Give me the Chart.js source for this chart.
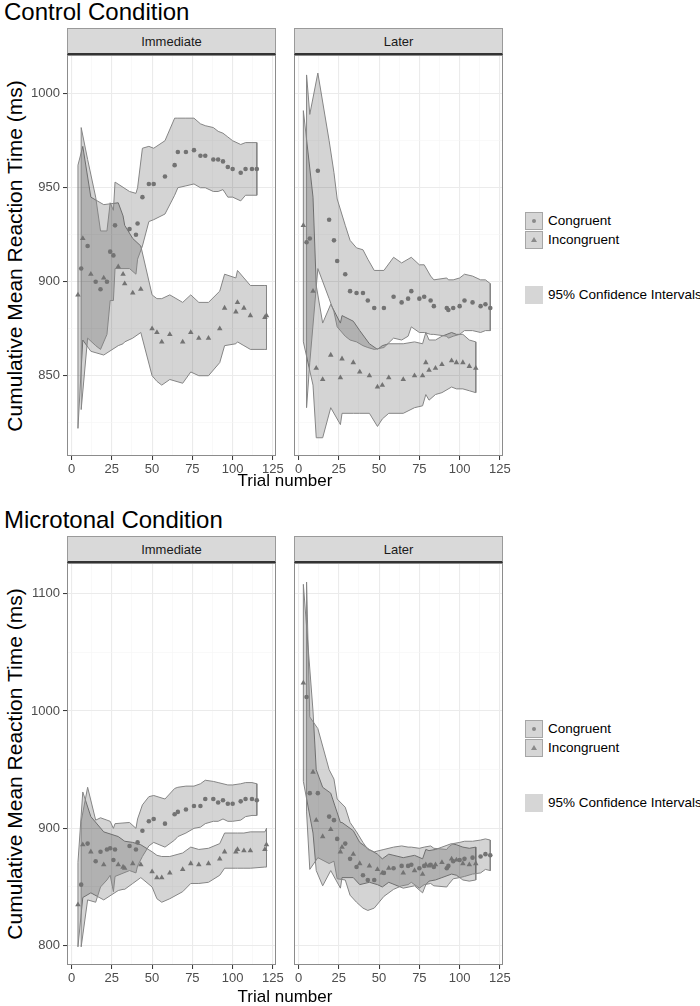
<!DOCTYPE html>
<html>
<head>
<meta charset="utf-8">
<script src="https://cdn.jsdelivr.net/npm/chart.js@4.4.0/dist/chart.umd.min.js"></script>
<style>
  body { margin: 0; background: #fff; font-family: 'Liberation Sans', Arial, sans-serif; }
  #lienzo { position: relative; width: 700px; height: 1006px; overflow: hidden; background: #fff; }
  canvas { position: absolute; }
  .titulo { position: absolute; left: 4px; font-size: 24px; line-height: 26px; color: #000; }
  .tira { position: absolute; width: 209px; height: 27px; box-sizing: border-box; background: #d9d9d9;
          border: 1px solid #9a9a9a; border-bottom: 2px solid #333; text-align: center;
          font-size: 13px; line-height: 25px; color: #1a1a1a; }
  .ytit { position: absolute; left: -185px; width: 400px; height: 24px; line-height: 24px; text-align: center;
          font-size: 21px; color: #000; transform: rotate(-90deg); white-space: nowrap; }
  .xtit { position: absolute; left: 185px; width: 200px; height: 20px; line-height: 20px; text-align: center;
          font-size: 17px; color: #000; }
  .clave { position: absolute; left: 525px; width: 18px; height: 18px; box-sizing: border-box;
           background: #d6d6d6; border: 1px solid #a6a6a6; }
  .clave.ic { border: none; }
  .clave .punto { position: absolute; left: 6px; top: 6px; width: 4px; height: 4px; border-radius: 50%; background: #8a8a8a; }
  .clave .tri { position: absolute; left: 5px; top: 5px; width: 0; height: 0; border-left: 3px solid transparent;
                border-right: 3px solid transparent; border-bottom: 5px solid #8a8a8a; }
  .etiq { position: absolute; left: 548px; font-size: 13.5px; line-height: 18px; color: #000; white-space: nowrap; }
</style>
</head>
<body>
<div id="lienzo">
  <div class="titulo" style="top:-1px">Control Condition</div>
  <div class="titulo" style="top:507px">Microtonal Condition</div>

  <div class="tira" style="left:67px;top:28px">Immediate</div>
  <div class="tira" style="left:294px;top:28px">Later</div>
  <div class="tira" style="left:67px;top:536px">Immediate</div>
  <div class="tira" style="left:294px;top:536px">Later</div>

  <canvas id="g1" width="261" height="430" style="left:27px;top:50px"></canvas>
  <canvas id="g2" width="226" height="430" style="left:289px;top:50px"></canvas>
  <canvas id="g3" width="261" height="431" style="left:27px;top:558px"></canvas>
  <canvas id="g4" width="226" height="431" style="left:289px;top:558px"></canvas>

  <div class="ytit" style="top:244px">Cumulative Mean Reaction Time (ms)</div>
  <div class="ytit" style="top:752px">Cumulative Mean Reaction Time (ms)</div>
  <div class="xtit" style="top:471px">Trial number</div>
  <div class="xtit" style="top:987px">Trial number</div>

  <div class="clave" style="top:212px"><span class="punto"></span></div>
  <div class="etiq" style="top:212px">Congruent</div>
  <div class="clave" style="top:231px"><span class="tri"></span></div>
  <div class="etiq" style="top:231px">Incongruent</div>
  <div class="clave ic" style="top:286px"></div>
  <div class="etiq" style="top:286px">95% Confidence Intervals</div>

  <div class="clave" style="top:720px"><span class="punto"></span></div>
  <div class="etiq" style="top:720px">Congruent</div>
  <div class="clave" style="top:739px"><span class="tri"></span></div>
  <div class="etiq" style="top:739px">Incongruent</div>
  <div class="clave ic" style="top:794px"></div>
  <div class="etiq" style="top:794px">95% Confidence Intervals</div>
</div>

<script>
// numero de ensayo (eje x) de cada serie
const xInmCong = [6, 10, 15, 18, 22, 24, 26, 27, 36, 40, 41, 44, 48, 51, 58, 64, 66, 71, 76, 80, 83, 88, 91, 94, 97, 100, 105, 108, 112, 115];
const xInmInc = [4, 7, 12, 20, 29, 32, 33, 38, 43, 50, 53, 56, 61, 69, 74, 79, 85, 92, 95, 102, 103, 107, 111, 120, 121];
const xPostCong = [5, 7, 12, 19, 22, 24, 29, 32, 36, 40, 43, 47, 53, 59, 64, 68, 70, 75, 78, 82, 84, 92, 93, 96, 100, 103, 108, 113, 116, 119];
const xPostInc = [3, 9, 11, 15, 20, 26, 27, 34, 38, 44, 49, 52, 56, 65, 72, 77, 79, 81, 85, 89, 95, 98, 102, 106, 110];

// Control - Immediate
const ctrlInmCong    = [907, 919, 900, 896, 900, 916, 914, 930, 928, 925, 931, 945, 952, 952, 956, 962, 969, 969, 970, 967, 967, 965, 965, 964, 961, 960, 958, 960, 960, 960];
const ctrlInmCongSup = [982, 965, 945, 927, 927, 942, 938, 953, 948, 947, 950, 971, 972, 971, 975, 987, 987, 987, 987, 984, 983, 982, 980, 979, 977, 975, 973, 974, 974, 974];
const ctrlInmCongInf = [832, 870, 866, 864, 872, 890, 890, 907, 907, 904, 912, 919, 932, 933, 936, 946, 950, 951, 952, 950, 950, 948, 948, 949, 945, 945, 943, 946, 946, 946];
const ctrlInmInc    = [893, 923, 904, 902, 908, 904, 899, 894, 896, 875, 873, 868, 872, 868, 873, 870, 870, 875, 886, 884, 889, 886, 882, 881, 882];
const ctrlInmIncSup = [962, 972, 945, 941, 942, 935, 930, 923, 919, 893, 891, 891, 893, 889, 893, 889, 889, 895, 904, 902, 906, 902, 898, 898, 898];
const ctrlInmIncInf = [822, 869, 863, 861, 866, 867, 868, 870, 873, 850, 847, 845, 848, 846, 852, 850, 850, 857, 866, 867, 868, 866, 864, 864, 864];

// Control - Later
const ctrlPostCong    = [921, 923, 959, 933, 922, 911, 904, 895, 894, 894, 890, 886, 886, 892, 889, 891, 895, 891, 892, 890, 887, 886, 885, 886, 887, 890, 889, 887, 888, 886];
const ctrlPostCongSup = [1010, 989, 1011, 975, 958, 944, 930, 922, 918, 917, 912, 906, 906, 913, 910, 912, 913, 909, 909, 903, 901, 902, 901, 901, 902, 904, 903, 901, 901, 899];
const ctrlPostCongInf = [833, 857, 907, 891, 884, 876, 871, 869, 868, 866, 865, 864, 865, 870, 869, 871, 876, 873, 873, 872, 872, 871, 870, 871, 872, 874, 874, 873, 874, 874];
const ctrlPostInc    = [930, 895, 854, 848, 861, 849, 859, 857, 852, 850, 844, 845, 849, 848, 850, 850, 857, 853, 854, 856, 858, 857, 857, 855, 854];
const ctrlPostIncSup = [991, 945, 898, 878, 888, 878, 882, 879, 874, 867, 864, 866, 867, 867, 868, 867, 873, 869, 869, 871, 873, 872, 872, 869, 868];
const ctrlPostIncInf = [868, 845, 817, 817, 833, 824, 830, 830, 830, 830, 823, 827, 830, 830, 833, 834, 840, 837, 840, 841, 844, 843, 843, 842, 841];

// Microtonal - Immediate
const microInmCong    = [852, 887, 872, 880, 882, 883, 873, 882, 885, 882, 888, 898, 906, 908, 904, 912, 914, 916, 919, 919, 925, 925, 922, 924, 921, 921, 923, 925, 925, 924];
const microInmCongSup = [906, 935, 907, 909, 907, 906, 900, 904, 905, 900, 908, 920, 927, 928, 925, 934, 935, 936, 936, 938, 941, 940, 939, 938, 937, 937, 938, 939, 939, 938];
const microInmCongInf = [799, 839, 837, 850, 856, 860, 846, 859, 864, 862, 868, 876, 885, 888, 884, 890, 893, 896, 900, 901, 904, 906, 906, 908, 906, 906, 907, 910, 911, 911];
const microInmInc    = [835, 886, 880, 869, 869, 867, 866, 870, 869, 863, 858, 858, 862, 865, 870, 869, 870, 874, 880, 880, 882, 881, 881, 882, 886];
const microInmIncSup = [871, 931, 910, 897, 893, 890, 889, 888, 886, 880, 877, 876, 876, 879, 884, 882, 883, 887, 896, 896, 896, 896, 897, 897, 900];
const microInmIncInf = [799, 841, 845, 839, 847, 848, 848, 853, 858, 850, 840, 837, 840, 846, 853, 853, 854, 860, 866, 866, 866, 866, 866, 867, 867];

// Microtonal - Later
const microPostCong    = [1012, 930, 930, 910, 907, 891, 887, 874, 867, 860, 856, 856, 862, 866, 868, 868, 869, 866, 868, 869, 867, 866, 868, 872, 873, 874, 875, 876, 878, 877];
const microPostCongSup = [1110, 995, 985, 950, 942, 925, 918, 905, 897, 888, 882, 880, 882, 884, 885, 884, 884, 883, 884, 885, 883, 882, 884, 887, 888, 889, 889, 890, 891, 890];
const microPostCongInf = [914, 865, 875, 870, 872, 857, 856, 843, 837, 832, 830, 832, 842, 848, 851, 852, 854, 849, 852, 853, 851, 850, 852, 857, 858, 859, 861, 862, 865, 864];
const microPostInc    = [1024, 948, 907, 893, 899, 880, 884, 878, 870, 868, 865, 862, 866, 862, 864, 861, 869, 868, 869, 871, 874, 873, 870, 869, 870];
const microPostIncSup = [1108, 1000, 950, 935, 930, 905, 905, 898, 888, 882, 878, 874, 878, 875, 877, 874, 882, 881, 882, 884, 887, 886, 884, 883, 884];
const microPostIncInf = [940, 896, 864, 851, 864, 849, 858, 858, 852, 854, 852, 850, 854, 849, 851, 845, 852, 855, 856, 858, 861, 860, 856, 855, 856];

const familia = "'Liberation Sans', Arial, sans-serif";

function puntos(xs, ys) {
    return xs.map((x, i) => ({ x: x, y: ys[i] }));
}

// poligono cerrado: borde superior de ida y borde inferior de vuelta
function contorno(xs, inf, sup) {
    const pts = xs.map((x, i) => ({ x: x, y: sup[i] }));
    for (let i = xs.length - 1; i >= 0; i--) pts.push({ x: xs[i], y: inf[i] });
    pts.push({ x: xs[0], y: sup[0] });
    return pts;
}

const bordePanel = {
    id: 'bordePanel',
    afterDraw(chart) {
        const { ctx, chartArea: a } = chart;
        ctx.save();
        ctx.strokeStyle = '#8c8c8c';
        ctx.lineWidth = 1;
        ctx.strokeRect(Math.round(a.left) + 0.5, Math.round(a.top) + 0.5,
                       Math.round(a.right - a.left) - 1, Math.round(a.bottom - a.top) - 1);
        ctx.restore();
    }
};

function banda(pts) {
    return {
        data: pts, fill: 'shape', backgroundColor: 'rgba(0,0,0,0.17)',
        borderColor: '#858585', borderWidth: 1, pointRadius: 0, pointHitRadius: 0, tension: 0
    };
}

function miPanel(id, conEjeY, yMin, yMax, yPaso, yMayor, xc, c, cInf, cSup, xi, inc, iInf, iSup) {
    const ctx = document.getElementById(id);
    new Chart(ctx, {
        type: 'line',
        data: {
            datasets: [
                { data: puntos(xc, c), showLine: false, pointStyle: 'circle', pointRadius: 2.3,
                  pointBackgroundColor: '#737373', pointBorderWidth: 0 },
                { data: puntos(xi, inc), showLine: false, pointStyle: 'triangle', pointRadius: 3.2,
                  pointBackgroundColor: '#737373', pointBorderWidth: 0 },
                banda(contorno(xc, cInf, cSup)),
                banda(contorno(xi, iInf, iSup))
            ]
        },
        options: {
            responsive: false,
            animation: false,
            events: [],
            layout: { padding: { top: 5, right: 12, bottom: 0, left: conEjeY ? 0 : 5 } },
            plugins: { legend: { display: false }, tooltip: { enabled: false } },
            scales: {
                x: {
                    type: 'linear', min: -2.8, max: 126.9,
                    afterFit: (s) => { s.height = 24; s.paddingLeft = 0; s.paddingRight = 0; },
                    border: { display: false },
                    grid: {
                        color: (g) => (g.tick && g.tick.value % 25 === 0) ? '#ebebeb' : '#f5f5f5',
                        lineWidth: (g) => (g.tick && g.tick.value % 25 === 0) ? 1.1 : 0.6,
                        tickLength: 4,
                        tickWidth: 1,
                        tickColor: (g) => (g.tick && g.tick.value % 25 === 0) ? '#333' : 'rgba(0,0,0,0)'
                    },
                    ticks: {
                        stepSize: 12.5, includeBounds: false, autoSkip: false, maxRotation: 0,
                        padding: 2, color: '#4d4d4d', font: { family: familia, size: 13 },
                        callback: (v) => v % 25 === 0 ? v : ''
                    }
                },
                y: {
                    type: 'linear', min: yMin, max: yMax,
                    afterFit: (s) => { s.width = conEjeY ? 40 : 0; s.paddingTop = 0; s.paddingBottom = 0; },
                    border: { display: false },
                    grid: {
                        color: (g) => (g.tick && g.tick.value % yMayor === 0) ? '#ebebeb' : '#f5f5f5',
                        lineWidth: (g) => (g.tick && g.tick.value % yMayor === 0) ? 1.1 : 0.6,
                        drawTicks: conEjeY,
                        tickLength: 4,
                        tickWidth: 1,
                        tickColor: (g) => (g.tick && g.tick.value % yMayor === 0) ? '#333' : 'rgba(0,0,0,0)'
                    },
                    ticks: {
                        display: conEjeY, stepSize: yPaso, includeBounds: false, autoSkip: false,
                        padding: 3, color: '#4d4d4d', font: { family: familia, size: 13 },
                        callback: (v) => v % yMayor === 0 ? v : ''
                    }
                }
            }
        },
        plugins: [bordePanel]
    });
}

miPanel('g1', true, 807.3, 1020.6, 25, 50,
        xInmCong, ctrlInmCong, ctrlInmCongInf, ctrlInmCongSup,
        xInmInc, ctrlInmInc, ctrlInmIncInf, ctrlInmIncSup);
miPanel('g2', false, 807.3, 1020.6, 25, 50,
        xPostCong, ctrlPostCong, ctrlPostCongInf, ctrlPostCongSup,
        xPostInc, ctrlPostInc, ctrlPostIncInf, ctrlPostIncSup);
miPanel('g3', true, 783.5, 1126.2, 50, 100,
        xInmCong, microInmCong, microInmCongInf, microInmCongSup,
        xInmInc, microInmInc, microInmIncInf, microInmIncSup);
miPanel('g4', false, 783.5, 1126.2, 50, 100,
        xPostCong, microPostCong, microPostCongInf, microPostCongSup,
        xPostInc, microPostInc, microPostIncInf, microPostIncSup);
</script>
</body>
</html>
